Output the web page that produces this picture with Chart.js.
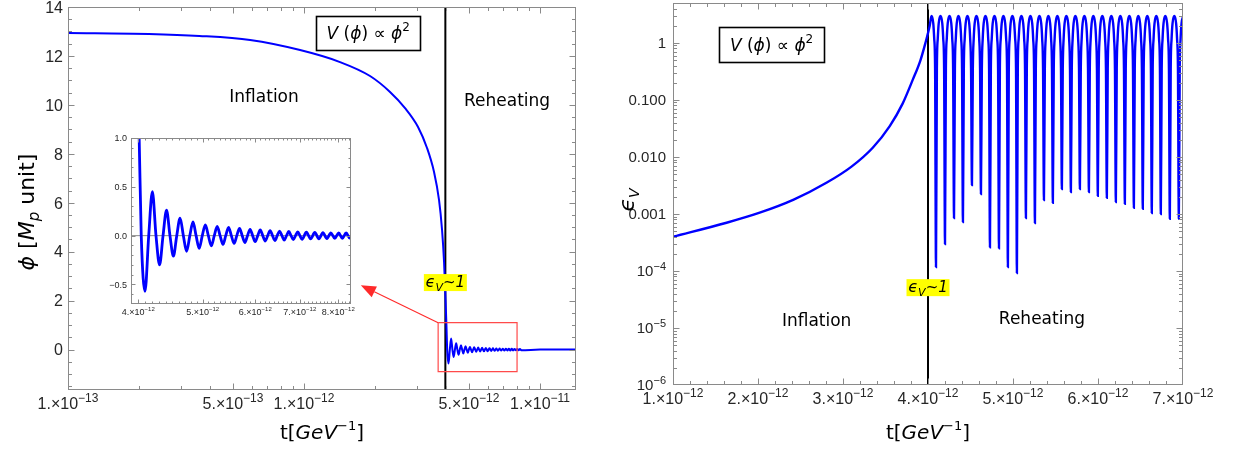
<!DOCTYPE html>
<html><head><meta charset="utf-8">
<script src="https://cdn.jsdelivr.net/npm/chart.js@4.4.0/dist/chart.umd.min.js"></script>
<style>
html,body{margin:0;padding:0;background:#fff;}
#wrap{position:relative;width:1234px;height:450px;overflow:hidden;background:#fff;}
canvas{position:absolute;}
</style></head><body>
<div id="wrap">
<canvas id="cL" width="617" height="450" style="left:0;top:0"></canvas>
<canvas id="cR" width="617" height="450" style="left:617px;top:0"></canvas>
<canvas id="cI" width="270" height="210" style="left:95px;top:120px"></canvas>
</div>
<script>
// ---------------- DATA (time in units of 1e-12 GeV^-1) ----------------
// inflaton field phi [M_p] during inflation
const phiInflT = [0.10, 0.22, 0.36, 0.591, 0.962, 1.421, 1.904, 2.314, 2.679, 3.041, 3.320, 3.555, 3.733, 3.844, 3.920, 3.978, 4.012];
const phiInflV = [12.94, 12.90, 12.82, 12.65, 12.24, 11.75, 11.18, 10.53, 9.87, 9.10, 8.24, 7.26, 6.11, 4.89, 3.58, 2.03, 1.00];
// times of the field extrema (= dips of epsilon_V) during reheating
const oscT = [4.094, 4.200, 4.306, 4.411, 4.517, 4.623, 4.729, 4.835, 4.940, 5.046,
              5.152, 5.258, 5.364, 5.469, 5.575, 5.681, 5.787, 5.893, 5.998, 6.104,
              6.210, 6.316, 6.422, 6.527, 6.633, 6.739, 6.845, 6.951, 7.056, 7.162,
              7.268, 7.374, 7.480, 7.585, 7.691, 7.797, 7.903, 8.009, 8.114, 8.220, 8.326];
// field value at those extrema
const phiExt = [-0.57, 0.45, -0.30, 0.26, -0.21, 0.18, -0.16, 0.14, -0.13, 0.11,
                -0.105, 0.095, -0.09, 0.085, -0.08, 0.075, -0.07, 0.065, -0.062, 0.058,
                -0.055, 0.052, -0.05, 0.047, -0.045, 0.043, -0.041, 0.039, -0.037, 0.036,
                -0.034, 0.033, -0.032, 0.031, -0.030, 0.029, -0.028, 0.028, -0.027, 0.027, -0.026];
// times where phi crosses zero (= humps of epsilon_V)
const zeroT = [4.041, 4.147, 4.253, 4.358, 4.464, 4.570, 4.676, 4.782, 4.887, 4.993,
               5.099, 5.205, 5.311, 5.416, 5.522, 5.628, 5.734, 5.840, 5.945, 6.051,
               6.157, 6.263, 6.369, 6.474, 6.580, 6.686, 6.792, 6.898, 7.003];
const phiTailT = [10.0, 14.2];
const phiTailV = [0, 0];

// epsilon_V
const epsInflT = [1.00, 1.63, 2.02, 2.42, 2.81, 3.10, 3.35, 3.55, 3.70, 3.82, 3.91, 3.97, 4.02];
const epsInflV = [3.98e-4, 7.0e-4, 1.05e-3, 1.78e-3, 3.55e-3, 6.76e-3, 0.0145, 0.0347, 0.0851, 0.224, 0.49, 1.0, 2.0];
const epsDip = [1.17e-4, 2.97e-4, 8.5e-4, 7.2e-4, 3.2e-3, 2.24e-3, 2.6e-4, 2.5e-4, 1.17e-4, 9.2e-5,
                8.5e-4, 6.9e-4, 1.76e-3, 1.56e-3, 2.74e-3, 2.43e-3, 2.74e-3, 2.43e-3, 2.07e-3, 1.91e-3,
                1.62e-3, 1.5e-3, 1.28e-3, 1.23e-3, 1.04e-3, 1.0e-3, 8.2e-4, 8.2e-4];
const epsPeak = 2.95;
// shape of one hump next to a dip (offset from dip, value)
const humpOffset = [0.0105, 0.021, 0.032];
const humpValue  = [0.35, 1.2, 2.2];

// tick labels
const leftXMajor = [0.1, 0.5, 1, 5, 10];
const leftXLabels = [['1.×10','−13'],['5.×10','−13'],['1.×10','−12'],['5.×10','−12'],['1.×10','−11']];
const leftYMajor = [0, 2, 4, 6, 8, 10, 12, 14];
const leftYLabels = [['0'],['2'],['4'],['6'],['8'],['10'],['12'],['14']];
const rightXMajor = [1, 2, 3, 4, 5, 6, 7];
const rightXLabels = [['1.×10','−12'],['2.×10','−12'],['3.×10','−12'],['4.×10','−12'],['5.×10','−12'],['6.×10','−12'],['7.×10','−12']];
const rightYMajor = [1, 0.1, 0.01, 0.001, 1e-4, 1e-5, 1e-6];
const rightYLabels = [['1'],['0.100'],['0.010'],['0.001'],['10','−4'],['10','−5'],['10','−6']];
const insetXMajor = [4, 5, 6, 7, 8];
const insetXLabels = [['4.×10','−12'],['5.×10','−12'],['6.×10','−12'],['7.×10','−12'],['8.×10','−12']];
const insetYMajor = [-0.5, 0, 0.5, 1.0];
const insetYLabels = [['−0.5'],['0.0'],['0.5'],['1.0']];

// ---------------- build series ----------------
function buildPhi(){
  const p=[];
  for(let i=0;i<phiInflT.length;i++) p.push({x:phiInflT[i],y:phiInflV[i]});
  for(let k=0;k<oscT.length;k++){
    if(k<zeroT.length) p.push({x:zeroT[k],y:0});
    p.push({x:oscT[k],y:phiExt[k]});
  }
  for(let i=0;i<phiTailT.length;i++) p.push({x:phiTailT[i],y:phiTailV[i]});
  return p;
}
function buildEps(){
  const p=[];
  for(let i=0;i<epsInflT.length;i++) p.push({x:epsInflT[i],y:epsInflV[i]});
  for(let k=0;k<zeroT.length;k++){
    p.push({x:zeroT[k],y:epsPeak});
    if(k<epsDip.length){
      for(let j=humpOffset.length-1;j>=0;j--) p.push({x:oscT[k]-humpOffset[j],y:humpValue[j]});
      p.push({x:oscT[k],y:epsDip[k]});
      for(let j=0;j<humpOffset.length;j++) p.push({x:oscT[k]+humpOffset[j],y:humpValue[j]});
    }
  }
  return p;
}
const phiPts = buildPhi();
const epsPts = buildEps();

// ---------------- drawing helpers ----------------
const FT = '"Liberation Sans", Arial, sans-serif';
const FC = '"DejaVu Sans", sans-serif';
function S(t,size,fam,italic,dy){return {t:t,f:(italic?'italic ':'')+size+'px '+fam,dy:dy||0};}
function rich(ctx,segs,x,y,align){
  let w=0;
  for(const s of segs){ctx.font=s.f;w+=ctx.measureText(s.t).width;}
  let sx = align==='center'?x-w/2:(align==='right'?x-w:x);
  ctx.textAlign='left';ctx.textBaseline='alphabetic';
  for(const s of segs){ctx.font=s.f;ctx.fillText(s.t,sx,y+s.dy);sx+=ctx.measureText(s.t).width;}
  return w;
}
function sciSegs(parts,size){
  const a=[S(parts[0],size,FT,false,0)];
  if(parts[1]) a.push(S(parts[1],Math.round(size*0.72),FT,false,-size*0.42));
  return a;
}
function line(ctx,x1,y1,x2,y2){ctx.beginPath();ctx.moveTo(x1,y1);ctx.lineTo(x2,y2);ctx.stroke();}

function framePlugin(cfg){
  return {id:'frame_'+cfg.name, afterDraw(chart){
    const ctx=chart.ctx,a=chart.chartArea,x=chart.scales.x,y=chart.scales.y;
    ctx.save();
    ctx.strokeStyle='#8a8a8a';ctx.lineWidth=1;
    const L=Math.round(a.left)+0.5,R=Math.round(a.right)-0.5,T=Math.round(a.top)+0.5,B=Math.round(a.bottom)-0.5;
    const tx=(vals,len)=>{for(const v of vals){const p=Math.round(x.getPixelForValue(v))+0.5;if(p<L-0.1||p>R+0.1)continue;line(ctx,p,B,p,B-len);line(ctx,p,T,p,T+len);}};
    const ty=(vals,len)=>{for(const v of vals){const p=Math.round(y.getPixelForValue(v))+0.5;if(p<T-0.1||p>B+0.1)continue;line(ctx,L,p,L+len,p);line(ctx,R,p,R-len,p);}};
    tx(cfg.xMinor,cfg.minLen);tx(cfg.xMajor,cfg.majLen);
    ty(cfg.yMinor,cfg.minLen);ty(cfg.yMajor,cfg.majLen);
    ctx.strokeRect(L,T,R-L,B-T);
    ctx.fillStyle='#262626';
    cfg.xMajor.forEach((v,i)=>{rich(ctx,sciSegs(cfg.xLabels[i],cfg.size),x.getPixelForValue(v),a.bottom+cfg.xOff,'center');});
    cfg.yMajor.forEach((v,i)=>{rich(ctx,sciSegs(cfg.yLabels[i],cfg.ySize||cfg.size),a.left-cfg.yGap,y.getPixelForValue(v)+(cfg.ySize||cfg.size)*0.36,'right');});
    if(cfg.extra) cfg.extra(chart,ctx);
    ctx.restore();
  }};
}
function boxLabel(ctx,cx,cy,w,h,size){
  ctx.fillStyle='#fff';ctx.fillRect(cx-w/2,cy-h/2,w,h);
  ctx.strokeStyle='#000';ctx.lineWidth=1.6;ctx.strokeRect(Math.round(cx-w/2)+0.5,Math.round(cy-h/2)+0.5,w,h);
  ctx.fillStyle='#000';
  rich(ctx,[S('V',size,FC,true),S(' (',size,FC,false),S('ϕ',size,FC,true),S(') ∝ ',size,FC,false),S('ϕ',size,FC,true),S('2',Math.round(size*0.7),FC,false,-size*0.45)],cx,cy+size*0.36,'center');
}
function epsOne(ctx,cx,cy){
  ctx.fillStyle='#ffff00';ctx.fillRect(cx-21.5,cy-8,43,17);
  ctx.fillStyle='#000';
  rich(ctx,[S('ϵ',16,FC,true),S('V',11,FC,true,4),S('~1',15,FC,true)],cx,cy+5,'center');
}
function xTitle(ctx,cx,by){
  ctx.fillStyle='#000';
  rich(ctx,[S('t[',20,FC,false),S('GeV',20,FC,true),S('−1',13,FC,false,-9),S(']',20,FC,false)],cx,by,'center');
}
function arrow(ctx,x1,y1,x2,y2,hl,hw){
  const ang=Math.atan2(y2-y1,x2-x1);
  const bx=x2-hl*Math.cos(ang),by=y2-hl*Math.sin(ang);
  line(ctx,x1,y1,bx,by);
  ctx.beginPath();ctx.moveTo(x2,y2);ctx.lineTo(bx+hw*Math.sin(ang),by-hw*Math.cos(ang));ctx.lineTo(bx-hw*Math.sin(ang),by+hw*Math.cos(ang));ctx.closePath();ctx.fill();
}

// ---------------- minor ticks ----------------
const leftXMinor=[];[0.1,1].forEach(d=>[2,3,4,6,7,8,9].forEach(m=>leftXMinor.push(d*m)));
const leftYMinor=[];for(let v=-1.5;v<=14;v+=0.5)leftYMinor.push(v);
const rightXMinor=[];for(let v=1;v<=7.001;v+=0.2)rightXMinor.push(v);
const rightYMinor=[];[1e-6,1e-5,1e-4,1e-3,1e-2,0.1,1].forEach(d=>[2,3,4,5,6,7,8,9].forEach(m=>rightYMinor.push(d*m)));
const insetXMinor=[];for(let v=3.9;v<=8.4;v+=0.1)insetXMinor.push(v);
const insetYMinor=[];for(let v=-0.7;v<=1.0001;v+=0.1)insetYMinor.push(v);

function baseScales(xType,xMin,xMax,yType,yMin,yMax,yW,xH){
  return {
    x:{type:xType,min:xMin,max:xMax,grid:{display:false},border:{display:false},ticks:{display:false},afterFit:s=>{s.height=xH;}},
    y:{type:yType,min:yMin,max:yMax,grid:{display:false},border:{display:false},ticks:{display:false},afterFit:s=>{s.width=yW;}}
  };
}
const common={responsive:false,animation:false,events:[],plugins:{legend:{display:false},tooltip:{enabled:false}}};

// ---------------- left chart ----------------
const lineT_left = 3.97;
new Chart(document.getElementById('cL'),{
  type:'line',
  data:{datasets:[
    {data:phiPts,borderColor:'#0000ff',borderWidth:2,pointRadius:0,cubicInterpolationMode:'monotone',order:1},
    {data:[{x:lineT_left,y:-1.65},{x:lineT_left,y:14}],borderColor:'#000',borderWidth:2,pointRadius:0,order:2},
    {data:[{x:3.70,y:1.1},{x:7.99,y:1.1},{x:7.99,y:-0.9},{x:3.70,y:-0.9},{x:3.70,y:1.1}],borderColor:'#ff4a4a',borderWidth:1.2,pointRadius:0,tension:0,order:0}
  ]},
  options:Object.assign({},common,{
    layout:{padding:{top:7,right:41,left:0,bottom:0}},
    scales:baseScales('logarithmic',0.1,14.2,'linear',-1.65,14,68,60)
  }),
  plugins:[framePlugin({name:'L',xMajor:leftXMajor,xLabels:leftXLabels,xMinor:leftXMinor,yMajor:leftYMajor,yLabels:leftYLabels,yMinor:leftYMinor,
    size:16,xOff:19,yGap:5,majLen:6,minLen:3.5,
    extra:(chart,ctx)=>{
      const x=chart.scales.x,y=chart.scales.y,a=chart.chartArea;
      ctx.fillStyle='#000';
      ctx.font='17px '+FC;ctx.textAlign='center';ctx.textBaseline='middle';
      ctx.fillText('Inflation',x.getPixelForValue(0.677),y.getPixelForValue(10.3));
      ctx.fillText('Reheating',x.getPixelForValue(7.25),y.getPixelForValue(10.15));
      boxLabel(ctx,x.getPixelForValue(1.87),y.getPixelForValue(12.95),104,34,17);
      epsOne(ctx,x.getPixelForValue(lineT_left),y.getPixelForValue(2.76));
      ctx.strokeStyle='#ff2a2a';ctx.fillStyle='#ff2a2a';ctx.lineWidth=1.1;
      arrow(ctx,x.getPixelForValue(3.70),y.getPixelForValue(1.1),x.getPixelForValue(1.74),y.getPixelForValue(2.63),15,6);
      // axis titles
      xTitle(ctx,(a.left+a.right)/2,439);
      ctx.save();ctx.translate(26,212);ctx.rotate(-Math.PI/2);ctx.fillStyle='#000';
      rich(ctx,[S('ϕ',22,FC,true),S(' [',22,FC,false),S('M',22,FC,true),S('p',15,FC,true,5),S(' unit]',22,FC,false)],0,8,'center');
      ctx.restore();
    }})]
});

// ---------------- inset ----------------
new Chart(document.getElementById('cI'),{
  type:'line',
  data:{datasets:[
    {data:phiPts,borderColor:'#0000ff',borderWidth:2.8,pointRadius:0,cubicInterpolationMode:'monotone',order:0},
    {data:[{x:3.9,y:0},{x:8.36,y:0}],borderColor:'#8a8a8a',borderWidth:1,pointRadius:0,order:1}
  ]},
  options:Object.assign({},common,{
    layout:{padding:{top:18,right:14,left:0,bottom:0}},
    scales:baseScales('logarithmic',3.9,8.36,'linear',-0.7,1.0,36,26)
  }),
  plugins:[framePlugin({name:'I',xMajor:insetXMajor,xLabels:insetXLabels,xMinor:insetXMinor,yMajor:insetYMajor,yLabels:insetYLabels,yMinor:insetYMinor,
    size:9,xOff:11,yGap:4,majLen:4,minLen:2})]
});

// ---------------- right chart ----------------
const lineT_right = 4.0;
new Chart(document.getElementById('cR'),{
  type:'line',
  data:{datasets:[
    {data:epsPts,borderColor:'#0000ff',borderWidth:2.4,pointRadius:0,cubicInterpolationMode:'monotone',order:1},
    {data:[{x:lineT_right,y:1e-6},{x:lineT_right,y:5}],borderColor:'#000',borderWidth:2,pointRadius:0,order:2}
  ]},
  options:Object.assign({},common,{
    layout:{padding:{top:3,right:51,left:0,bottom:0}},
    scales:baseScales('linear',1,7,'logarithmic',1e-6,5,56,65)
  }),
  plugins:[framePlugin({name:'R',xMajor:rightXMajor,xLabels:rightXLabels,xMinor:rightXMinor,yMajor:rightYMajor,yLabels:rightYLabels,yMinor:rightYMinor,
    size:16,ySize:15,xOff:19,yGap:7,majLen:6,minLen:3.5,
    extra:(chart,ctx)=>{
      const x=chart.scales.x,y=chart.scales.y,a=chart.chartArea;
      ctx.fillStyle='#000';
      ctx.font='17px '+FC;ctx.textAlign='center';ctx.textBaseline='middle';
      ctx.fillText('Inflation',x.getPixelForValue(2.69),y.getPixelForValue(1.27e-5));
      ctx.fillText('Reheating',x.getPixelForValue(5.34),y.getPixelForValue(1.38e-5));
      boxLabel(ctx,x.getPixelForValue(2.16),y.getPixelForValue(0.92),105,35,17);
      epsOne(ctx,x.getPixelForValue(lineT_right),y.getPixelForValue(5.2e-5));
      xTitle(ctx,(a.left+a.right)/2,439);
      ctx.save();ctx.translate(10,200);ctx.rotate(-Math.PI/2);ctx.fillStyle='#000';
      rich(ctx,[S('ϵ',22,FC,true),S('V',14,FC,true,5)],0,7,'center');
      ctx.restore();
    }})]
});
</script>
</body></html>
